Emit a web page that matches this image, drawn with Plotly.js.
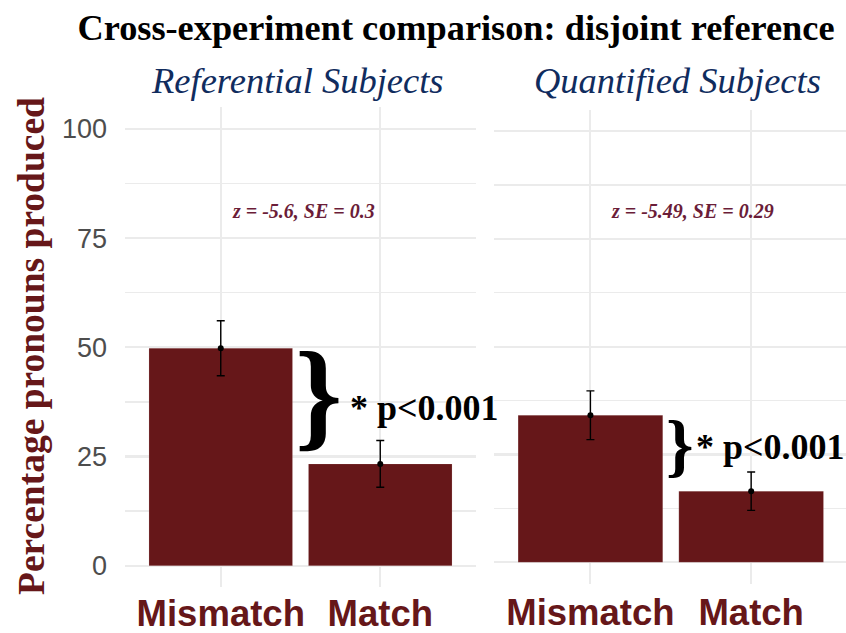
<!DOCTYPE html>
<html>
<head>
<meta charset="utf-8">
<script src="https://cdn.plot.ly/plotly-3.0.1.min.js"></script>
<style>html,body{margin:0;padding:0;background:#fff;}</style>
</head>
<body>
<div id="chart" style="width:846px;height:633px;"></div>
<script>
// ---- data ----
const categories = ['Mismatch', 'Match'];
const panelNames = ['Referential Subjects', 'Quantified Subjects'];
const referentialPct = [49.8, 23.3];
const referentialSE = [6.3, 5.35];
const quantifiedPct = [34.1, 16.5];
const quantifiedSE = [5.65, 4.45];
const zLabels = ['z = -5.6, SE = 0.3', 'z = -5.49, SE = 0.29'];
const sigLabel = '* p<0.001';
const yTicks = [0, 25, 50, 75, 100];

const barColor = '#661719';
const labelRed = '#661719';
const serif = 'Liberation Serif, Times New Roman, serif';
const sans = 'Liberation Sans, Arial, sans-serif';

function barTrace(vals, xa, ya) {
  return {type: 'bar', x: categories, y: vals, xaxis: xa, yaxis: ya,
    width: 0.9, marker: {color: barColor, line: {color: 'rgba(255,255,255,0.25)', width: 0.6}},
    hoverinfo: 'skip', showlegend: false};
}
function dotTrace(vals, se, xa, ya) {
  return {type: 'scatter', mode: 'markers', x: categories, y: vals, xaxis: xa, yaxis: ya,
    marker: {color: '#000', size: 6},
    error_y: {type: 'data', array: se, visible: true, color: '#000', thickness: 1.4, width: 4},
    hoverinfo: 'skip', showlegend: false};
}

const data = [
  barTrace(referentialPct, 'x', 'y'),
  dotTrace(referentialPct, referentialSE, 'x', 'y'),
  barTrace(quantifiedPct, 'x2', 'y2'),
  dotTrace(quantifiedPct, quantifiedSE, 'x2', 'y2')
];

const gridCol = '#EBEBEB';
function xAxis(domain, range, anchor, standoff) {
  return {domain: domain, range: range, anchor: anchor, type: 'category',
    showgrid: true, gridcolor: gridCol, gridwidth: 2, zeroline: false, showline: false,
    ticks: '', ticklabelstandoff: standoff,
    tickfont: {family: sans, size: 36.5, color: labelRed, weight: 'bold'}, fixedrange: true};
}
function yAxis(domain, anchor, showLabels) {
  return {domain: domain, range: [-5, 105], anchor: anchor,
    tickvals: yTicks, ticktext: yTicks.map(String), showticklabels: showLabels,
    showgrid: true, gridcolor: gridCol, gridwidth: 2.2, zeroline: false, showline: false,
    ticks: '', ticklabelstandoff: 17,
    minor: {dtick: 12.5, tick0: 0, showgrid: true, gridcolor: gridCol, gridwidth: 1.3},
    tickfont: {family: sans, size: 27, color: '#4D4D4D'}, fixedrange: true};
}

const annotations = [
  // facet titles
  {text: panelNames[0], xref: 'paper', yref: 'paper', x: 0.352, y: 0.8736, xanchor: 'center', yanchor: 'middle', showarrow: false,
   font: {family: serif, size: 36.5, color: '#102C5E', style: 'italic'}},
  {text: panelNames[1], xref: 'paper', yref: 'paper', x: 0.8014, y: 0.8736, xanchor: 'center', yanchor: 'middle', showarrow: false,
   font: {family: serif, size: 36.5, color: '#102C5E', style: 'italic'}},
  // y title
  {text: 'Percentage pronouns produced', xref: 'paper', yref: 'paper', x: 0.0378, y: 0.4534, textangle: -90,
   xanchor: 'center', yanchor: 'middle', showarrow: false,
   font: {family: serif, size: 37.5, color: labelRed, weight: 'bold'}},
  // z labels
  {text: zLabels[0], xref: 'x', yref: 'y', x: 0.516, y: 81.2, showarrow: false, xanchor: 'center', yanchor: 'middle',
   font: {family: serif, size: 20, color: '#6B1D38', weight: 'bold', style: 'italic'}},
  {text: zLabels[1], xref: 'x2', yref: 'y2', x: 0.638, y: 81.4, showarrow: false, xanchor: 'center', yanchor: 'middle',
   font: {family: serif, size: 20, color: '#6B1D38', weight: 'bold', style: 'italic'}},
  // braces
  {text: '}', xref: 'x', yref: 'y', x: 0.613, y: 39.3, showarrow: false, xanchor: 'center', yanchor: 'middle',
   font: {family: serif, size: 120, color: '#000', weight: 'bold'}},
  {text: '}', xref: 'x2', yref: 'y2', x: 0.555, y: 27.2, showarrow: false, xanchor: 'center', yanchor: 'middle',
   font: {family: serif, size: 70, color: '#000', weight: 'bold'}},
  // significance
  {text: sigLabel, xref: 'x', yref: 'y', x: 0.795, y: 36.1, showarrow: false, xanchor: 'left', yanchor: 'middle',
   font: {family: serif, size: 36, color: '#000', weight: 'bold'}},
  {text: sigLabel, xref: 'x2', yref: 'y2', x: 0.642, y: 26.8, showarrow: false, xanchor: 'left', yanchor: 'middle',
   font: {family: serif, size: 36, color: '#000', weight: 'bold'}}
];

const layout = {
  width: 846, height: 633,
  margin: {l: 0, r: 0, t: 0, b: 0},
  paper_bgcolor: '#fff', plot_bgcolor: '#fff',
  title: {text: 'Cross-experiment comparison: disjoint reference', x: 0.539, xanchor: 'center',
    y: 0.957, yanchor: 'middle', yref: 'container',
    font: {family: serif, size: 36.3, color: '#000', weight: 'bold'}},
  xaxis: xAxis([0.1478, 0.5626], [-0.6, 1.6], 'y', 1),
  yaxis: yAxis([0.0719, 0.8307], 'x', true),
  xaxis2: xAxis([0.5839, 1.0], [-0.6, 1.59], 'y2', 4),
  yaxis2: yAxis([0.0776, 0.8270], 'x2', false),
  annotations: annotations,
  showlegend: false,
  bargap: 0.1
};

Plotly.newPlot('chart', data, layout, {displayModeBar: false, staticPlot: true});
</script>
</body>
</html>
